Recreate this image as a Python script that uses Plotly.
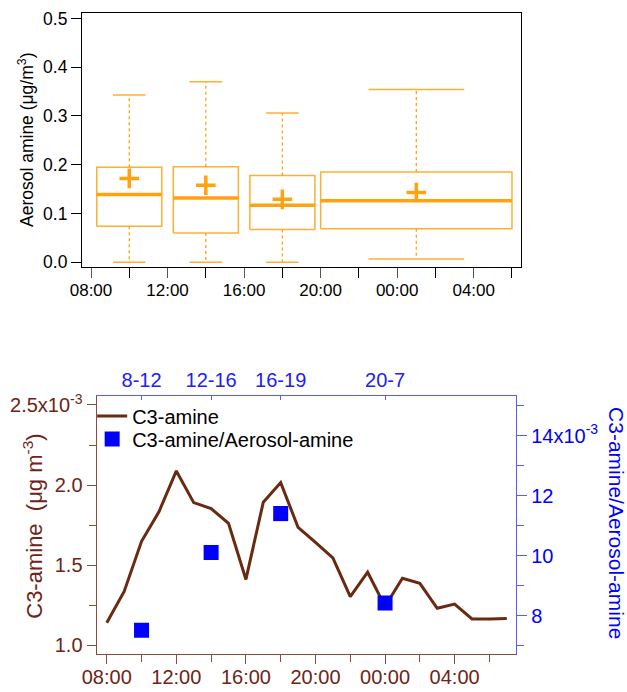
import plotly.graph_objects as go

# --- top panel: aerosol amine box stats per time window (hours, 24+ = next day)
box_start = [8.3, 12.3, 16.3, 20.0]
box_end = [11.7, 15.7, 19.7, 30.0]
box_low = [0.0, 0.0, 0.0, 0.007]
box_q1 = [0.074, 0.060, 0.067, 0.069]
box_median = [0.139, 0.132, 0.117, 0.126]
box_q3 = [0.195, 0.196, 0.178, 0.185]
box_high = [0.343, 0.370, 0.306, 0.354]
box_mean = [0.172, 0.158, 0.129, 0.143]

# --- bottom panel: hourly C3-amine and ratio per window
hours = list(range(8, 32))
c3_amine = [1.139e-3, 1.335e-3, 1.648e-3, 1.833e-3, 2.088e-3, 1.890e-3,
            1.853e-3, 1.760e-3, 1.410e-3, 1.893e-3, 2.015e-3, 1.735e-3,
            1.642e-3, 1.544e-3, 1.303e-3, 1.455e-3, 1.242e-3, 1.417e-3,
            1.386e-3, 1.230e-3, 1.256e-3, 1.163e-3, 1.163e-3, 1.166e-3]
window_hours = [10, 14, 18, 24]
window_labels = ["8-12", "12-16", "16-19", "20-7"]
ratio = [7.51e-3, 10.10e-3, 11.40e-3, 8.42e-3]

major_hours = list(range(8, 32, 4))
major_text = [f"{h % 24:02d}:00" for h in major_hours]
minor_hours = list(range(10, 32, 4))

ORANGE = "#FFA210"
BROWN = "#6A2A10"
BROWN_TXT = "#6E2418"
BROWN_AX = "#8B4A3A"
BLUE = "#0000FF"
BLUE_AX = "#5A5AFF"
FONT = "Liberation Sans, Arial, sans-serif"

fig = go.Figure()

# box outlines, medians, whiskers and caps built from the stats lists
bx, by, mx, my, wx, wy, cx, cy = [], [], [], [], [], [], [], []
centers = []
for x0, x1, lo, q1, med, q3, hi in zip(box_start, box_end, box_low, box_q1,
                                       box_median, box_q3, box_high):
    c = (x0 + x1) / 2
    half = (x1 - x0) / 4
    centers.append(c)
    bx += [x0, x1, x1, x0, x0, None]
    by += [q1, q1, q3, q3, q1, None]
    mx += [x0, x1, None]
    my += [med, med, None]
    wx += [c, c, None, c, c, None]
    wy += [q3, hi, None, q1, lo, None]
    cx += [c - half, c + half, None, c - half, c + half, None]
    cy += [hi, hi, None, lo, lo, None]

fig.add_trace(go.Scatter(x=wx, y=wy, mode="lines", showlegend=False,
                         line=dict(color=ORANGE, width=1.3, dash="3px,3px"),
                         xaxis="x", yaxis="y"))
fig.add_trace(go.Scatter(x=cx, y=cy, mode="lines", showlegend=False,
                         line=dict(color=ORANGE, width=1.5), opacity=0.85,
                         xaxis="x", yaxis="y"))
fig.add_trace(go.Scatter(x=bx, y=by, mode="lines", showlegend=False,
                         line=dict(color=ORANGE, width=1.5), opacity=0.85,
                         xaxis="x", yaxis="y"))
fig.add_trace(go.Scatter(x=mx, y=my, mode="lines", showlegend=False,
                         line=dict(color=ORANGE, width=3.5),
                         xaxis="x", yaxis="y"))
fig.add_trace(go.Scatter(x=centers, y=box_mean, mode="markers", showlegend=False,
                         marker=dict(symbol="cross-thin", size=14,
                                     line=dict(color=ORANGE, width=3.5)),
                         xaxis="x", yaxis="y"))

# bottom panel
fig.add_trace(go.Scatter(x=hours, y=c3_amine, mode="lines", name="C3-amine",
                         line=dict(color=BROWN, width=3), legend="legend",
                         xaxis="x2", yaxis="y2"))
fig.add_trace(go.Scatter(x=window_hours, y=ratio, mode="markers",
                         name="C3-amine/Aerosol-amine", legend="legend2",
                         marker=dict(symbol="square", size=15, color=BLUE),
                         xaxis="x3", yaxis="y3"))

legend_style = dict(xanchor="left", yanchor="middle", bgcolor="rgba(0,0,0,0)",
                    font=dict(size=20, color="black"), itemwidth=30)

fig.update_layout(
    width=627, height=692,
    margin=dict(l=0, r=0, t=0, b=0),
    paper_bgcolor="white", plot_bgcolor="white",
    font=dict(family=FONT, size=17, color="black"),
    xaxis=dict(domain=[0.1308, 0.8309], range=[7.53, 30.47],
               tickmode="array", tickvals=major_hours, ticktext=major_text,
               ticks="outside", ticklen=10, tickwidth=1.3, tickcolor="#555",
               minor=dict(tickvals=minor_hours, ticks="outside", ticklen=10,
                          tickwidth=1.3, tickcolor="black"),
               ticklabelstandoff=-3,
               showline=True, linecolor="black", linewidth=1.3, mirror=True,
               showgrid=False, zeroline=False, anchor="y",
               tickfont=dict(size=17), automargin=False),
    yaxis=dict(domain=[0.6142, 0.9812], range=[-0.0096, 0.511],
               tickmode="array", tickvals=[0, 0.1, 0.2, 0.3, 0.4, 0.5],
               ticktext=["0.0", "0.1", "0.2", "0.3", "0.4", "0.5"],
               ticks="outside", ticklen=10, tickwidth=1.3, tickcolor="black",
               showline=True, linecolor="black", linewidth=1.3, mirror=True,
               showgrid=False, zeroline=False, anchor="x",
               tickfont=dict(size=17.5), automargin=False),
    xaxis2=dict(domain=[0.1542, 0.8230], range=[7.42, 31.53],
                tickmode="array", tickvals=major_hours, ticktext=major_text,
                ticks="outside", ticklen=9, tickwidth=1.3, tickcolor=BROWN_AX,
                minor=dict(tickvals=minor_hours, ticks="outside", ticklen=7,
                           tickwidth=1.3, tickcolor=BROWN_AX),
                ticklabelstandoff=-4,
                showline=True, linecolor=BROWN_AX, linewidth=1.3,
                showgrid=False, zeroline=False, anchor="y2",
                tickfont=dict(size=20, color=BROWN_TXT), automargin=False),
    xaxis3=dict(range=[7.42, 31.53], overlaying="x2", side="top", anchor="y2",
                tickmode="array", tickvals=window_hours, ticktext=window_labels,
                ticks="inside", ticklen=4, tickwidth=1.3, tickcolor=BLUE_AX,
                showline=True, linecolor=BLUE_AX, linewidth=1.3,
                showgrid=False, zeroline=False,
                tickfont=dict(size=20, color="#2020FF"), automargin=False),
    yaxis2=dict(domain=[0.0549, 0.4277], range=[0.944e-3, 2.556e-3],
                tickmode="array", tickvals=[1.0e-3, 1.5e-3, 2.0e-3, 2.5e-3],
                ticktext=["1.0", "1.5", "2.0", "2.5x10<sup>-3</sup>"],
                ticks="outside", ticklen=9, tickwidth=1.3, tickcolor=BROWN_AX,
                minor=dict(tickvals=[1.25e-3, 1.75e-3, 2.25e-3], ticks="outside",
                           ticklen=7, tickwidth=1.3, tickcolor=BROWN_AX),
                showline=True, linecolor=BROWN_AX, linewidth=1.3,
                showgrid=False, zeroline=False, anchor="x2",
                tickfont=dict(size=20, color=BROWN_TXT), automargin=False),
    yaxis3=dict(range=[6.72e-3, 15.32e-3], overlaying="y2", side="right",
                anchor="x2", tickmode="array",
                tickvals=[8e-3, 10e-3, 12e-3, 14e-3],
                ticktext=["8", "10", "12", "14x10<sup>-3</sup>"],
                ticks="outside", ticklen=10, tickwidth=1.3, tickcolor=BLUE_AX,
                minor=dict(tickvals=[7e-3, 9e-3, 11e-3, 13e-3, 15e-3],
                           ticks="outside", ticklen=7, tickwidth=1.3,
                           tickcolor=BLUE_AX),
                showline=True, linecolor=BLUE_AX, linewidth=1.3,
                showgrid=False, zeroline=False,
                tickfont=dict(size=20, color=BLUE), automargin=False),
    legend=dict(x=0.147, y=1 - 416 / 692, **legend_style),
    legend2=dict(x=0.147, y=1 - 439 / 692, **legend_style),
    annotations=[
        dict(text="Aerosol amine (μg/m<sup>3</sup>)", x=0.0415, y=0.7977,
             xref="paper", yref="paper", textangle=-90, showarrow=False,
             xanchor="center", yanchor="middle",
             font=dict(size=17.5, color="black")),
        dict(text="C3-amine  (μg m<sup>-3</sup>)", x=0.0526, y=0.2402,
             xref="paper", yref="paper", textangle=-90, showarrow=False,
             xanchor="center", yanchor="middle",
             font=dict(size=22, color=BROWN_TXT)),
        dict(text="C3-amine/Aerosol-amine", x=0.984, y=0.2442,
             xref="paper", yref="paper", textangle=90, showarrow=False,
             xanchor="center", yanchor="middle",
             font=dict(size=21, color=BLUE)),
    ],
)

# drop the page's default body margin so the figure sits at the window corner
fig.write_html("out.html", config={"displayModeBar": False},
               post_script="document.body.style.margin='0';")
